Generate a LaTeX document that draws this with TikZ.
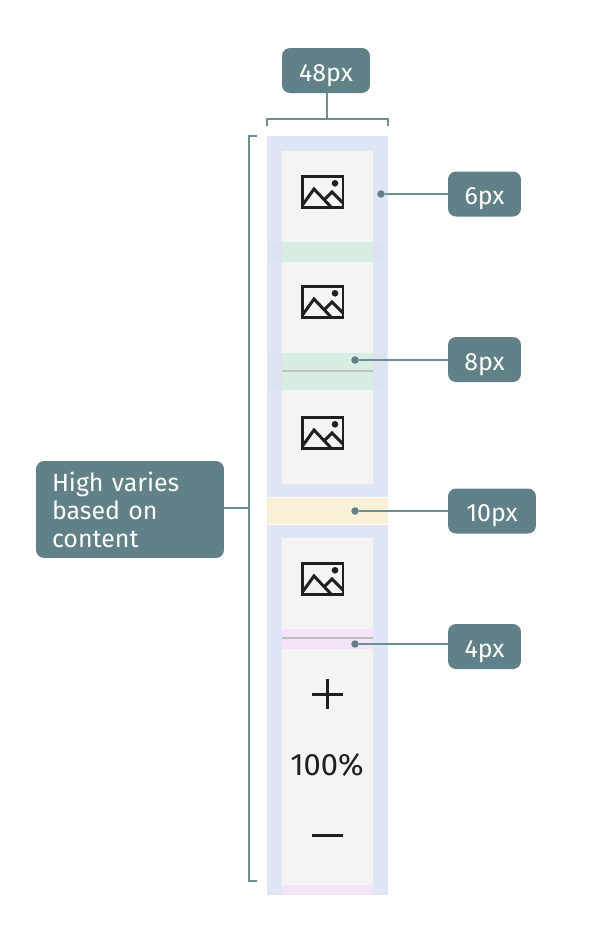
\documentclass[tikz,border=0pt]{standalone}
\usepackage{fontspec}
\setmainfont{Fira Sans}
\definecolor{tagfill}{HTML}{5F8187}
\definecolor{leadcol}{HTML}{6C8F95}
\definecolor{railblue}{HTML}{E0E6F6}
\definecolor{railband}{HTML}{DDE3F1}
\definecolor{itemgrey}{HTML}{F4F4F2}
\definecolor{gapgreen}{HTML}{D9EEE3}
\definecolor{gapyellow}{HTML}{F8F1D5}
\definecolor{gappink}{HTML}{F5E4F8}
\definecolor{rulegrey}{HTML}{B9C2C0}
\definecolor{inkdark}{HTML}{1F1F1F}
\tikzstyle{tag} = [
    rectangle,
    rounded corners=0.16cm,
    fill=tagfill,
    text=white,
    font=\fontsize{14.2}{16}\selectfont,
    minimum height=0.9cm,
    text height=0.42cm,
    text depth=0pt,
    inner sep=0pt
]
\tikzstyle{anchordot} = [
    circle,
    fill=tagfill,
    minimum size=0.15cm,
    inner sep=0pt
]
\tikzstyle{lead} = [line width=1.1pt,draw=leadcol]
\tikzstyle{icon} = [line width=1.7pt,draw=inkdark]
\tikzstyle{divider} = [line width=1.1pt,draw=rulegrey]
\newcommand{\imageicon}[1]{%
\draw [icon] (302.5,#1+1.5) rectangle (343,#1+32);
\fill [inkdark] (335,#1+8.3) circle (3.3);
\draw [icon] (302.5,#1+30) -- (314,#1+14) -- (332,#1+33);
\draw [icon] (325,#1+24) -- (332,#1+17) -- (343,#1+28);
}

\begin{document}
\begin{tikzpicture}[x=0.02cm, y=-0.02cm]
\useasboundingbox (0,0) rectangle (600,948);

% rail
\fill [railblue] (267,136) rectangle (388,497);
\fill [railblue] (267,525) rectangle (388,895);
\fill [railband] (267,242) rectangle (385,262);
\fill [railband] (267,353) rectangle (385,390);

% items
\fill [itemgrey] (282,151) rectangle (373,484);
\fill [itemgrey] (282,538) rectangle (373,895);

% gaps
\fill [gapgreen] (282,242) rectangle (373,262);
\fill [gapgreen] (282,353) rectangle (373,390);
\fill [gapyellow] (267,497.5) rectangle (388,523.5);
\fill [gappink] (282,629) rectangle (373,649);
\fill [gappink] (282,885) rectangle (373,895);
\draw [divider] (282,371) -- (373,371);
\draw [divider] (282,638) -- (373,638);

% icons
\foreach \ypos in {175,285,416,562} {
    \imageicon{\ypos}
}

\draw [icon] (312,694) -- (343,694);
\draw [icon] (327.5,679) -- (327.5,709);
\node (zoom) [font=\fontsize{17.6}{20}\selectfont, text=inkdark, inner sep=0pt] at (327,765) {100\%};
\draw [icon] (312,835) -- (343,835);

% labels
\node (width) [tag, minimum width=1.76cm] at (326,70.5) {48px};
\node (pad) [tag, minimum width=1.46cm] at (484.5,194) {6px};
\node (gap) [tag, minimum width=1.46cm] at (484.5,359.5) {8px};
\node (group) [tag, minimum width=1.76cm] at (492,511) {10px};
\node (tight) [tag, minimum width=1.46cm] at (484.5,646.5) {4px};
\node (high) [tag, minimum width=3.76cm, minimum height=1.94cm, align=left,
    font=\fontsize{14.2}{15.9}\selectfont, text width=3.12cm, text height=, text depth=] at (130,509.5)
    {High varies\\based on\\content};

% dots
\node (paddot) [anchordot] at (381,194) {};
\node (gapdot) [anchordot] at (355,360) {};
\node (groupdot) [anchordot] at (355,511) {};
\node (tightdot) [anchordot] at (355,644) {};

% brackets
\coordinate (widthmid) at (327,119);
\coordinate (highmid) at (249,508);
\draw [lead] (267,126) -- (267,119) -- (388,119) -- (388,126);
\draw [lead] (257,136) -- (249,136) -- (249,881) -- (257,881);

% leaders
\draw [lead] (widthmid |- width.south) -- (widthmid);
\draw [lead] (highmid -| high.east) -- (highmid);
\draw [lead] (paddot) -- (paddot -| pad.west);
\draw [lead] (gapdot) -- (gapdot -| gap.west);
\draw [lead] (groupdot) -- (groupdot -| group.west);
\draw [lead] (tightdot) -- (tightdot -| tight.west);

\end{tikzpicture}
\end{document}
